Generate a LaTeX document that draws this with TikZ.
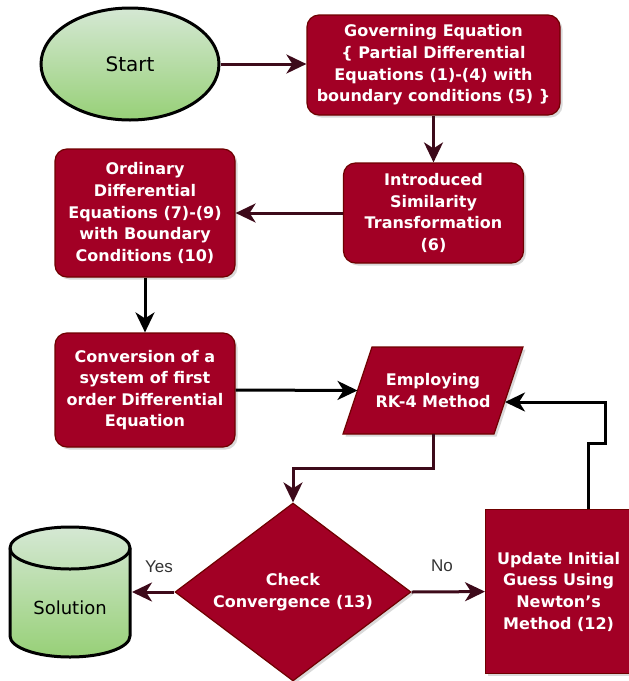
\documentclass[tikz,border=0pt]{standalone}
\usepackage{fontspec}
\setmainfont{DejaVu Sans}
\newfontfamily\lblfont{Liberation Sans}
\usetikzlibrary{shapes.geometric,arrows.meta,shadows,calc}
\definecolor{boxred}{HTML}{A20025}
\definecolor{boxedge}{HTML}{6F0000}
\definecolor{arrred}{HTML}{3D0A1A}
\definecolor{gtop}{HTML}{D5E8D4}
\definecolor{gbot}{HTML}{97D077}
\definecolor{lblgray}{HTML}{333333}
\begin{document}
\begin{tikzpicture}[x=1pt,y=-1pt,
  boxtext/.style={text=white, font=\fontsize{16}{21.6}\selectfont\bfseries, align=center, inner sep=0pt},
  redfill/.style={draw=boxedge, line width=1.2pt, fill=boxred,
    drop shadow={opacity=0.3,shadow xshift=2.5pt,shadow yshift=-2.5pt}},
  redbox/.style={redfill, boxtext},
  rbox/.style={redbox, rectangle, rounded corners=12pt},
  marr/.style={draw=arrred, line width=3pt, -{Stealth[length=20pt,width=19pt,inset=6pt]}},
  barr/.style={draw=black, line width=3pt, -{Stealth[length=20pt,width=19pt,inset=6pt]}},
  lbl/.style={font=\lblfont\fontsize{17}{20}\selectfont, text=lblgray, inner sep=0pt}
]
\useasboundingbox (0,0) rectangle (629,681);

% nodes
\node[ellipse, draw=black, line width=3pt, top color=gtop, bottom color=gbot,
  minimum width=178pt, minimum height=112pt, font=\fontsize{20}{24}\selectfont] (start) at (130,64) {Start};

\node[rbox, minimum width=253pt, minimum height=100pt] (gov) at (433.5,65)
  {Governing Equation\\\{ Partial Differential\\Equations (1)-(4) with\\boundary conditions (5) \}};

\node[rbox, minimum width=180pt, minimum height=100pt] (intro) at (433.5,213)
  {Introduced\\Similarity\\Transformation\\(6)};

\node[rbox, minimum width=180pt, minimum height=128pt] (ode) at (145,213)
  {Ordinary\\Differential\\Equations (7)-(9)\\with Boundary\\Conditions (10)};

\node[rbox, minimum width=180pt, minimum height=114pt] (conv) at (145,390)
  {Conversion of a\\system of first\\order Differential\\Equation};

% parallelogram (Employing RK-4 Method)
\coordinate (p1) at (343,434);
\coordinate (p2) at (372,347);
\coordinate (p3) at (523,347);
\coordinate (p4) at (494,434);
\path[redfill] (p1) -- (p2) -- (p3) -- (p4) -- cycle;
\node[boxtext] (emp) at (433,390.5) {Employing\\ RK-4 Method};
\coordinate (empW) at ($(p1)!0.5!(p2)$);
\coordinate (empE) at (505,402);
\coordinate (empS) at (433,434);

\node[redbox, diamond, aspect=1.33, minimum width=236pt, minimum height=178pt] (chk) at (293,592)
  {Check\\Convergence (13)};

\node[redbox, rectangle, minimum width=146pt, minimum height=164pt, anchor=north west] (upd) at (485,509)
  {Update Initial\\Guess Using\\Newton's\\Method (12)};

% cylinder (Solution)
\draw[line width=3pt, top color=gtop, bottom color=gbot]
  (10,548) -- (10,636) arc[start angle=180, end angle=360, x radius=60pt, y radius=21pt]
  -- (130,548) arc[start angle=0, end angle=180, x radius=60pt, y radius=21pt] -- cycle;
\draw[line width=3pt] (10,548) arc[start angle=180, end angle=360, x radius=60pt, y radius=21pt];
\node[font=\fontsize{18}{22}\selectfont, text=black] (sol) at (70,608) {Solution};
\coordinate (solE) at (132,592);

% connectors
\draw[marr] (start.east) -- (start.east -| gov.west);
\draw[marr] (gov.south) -- (gov.south |- intro.north);
\draw[marr] (intro.west) -- (ode.east);
\draw[barr] (ode.south) -- (conv.north);
\draw[barr] (conv.east) -- (empW);
\draw[marr] (empS) -- ++(0,34) -| (chk.north);
\draw[marr] (chk.west) -- (solE);
\draw[marr] (chk.east) -- (upd.west);
\coordinate (fbc) at (605,402);
\coordinate (fbs) at ($(upd.north west)+(103,0)$);
\draw[barr] (fbs) -- (fbs |- 0,443) -- (605,443) -- (fbc) -- (empE);

% labels
\node[lbl] (yes) at (159,567) {Yes};
\node[lbl] (no) at (442,566) {No};
\end{tikzpicture}
\end{document}
